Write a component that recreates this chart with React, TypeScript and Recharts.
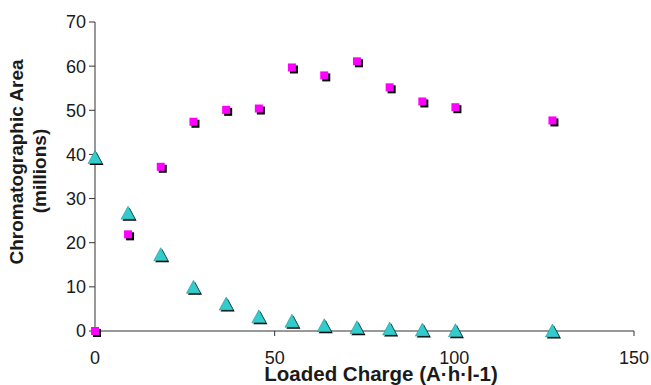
import React from 'react';
import { ScatterChart, Scatter, XAxis, YAxis } from 'recharts';

const charges = [0, 9.2, 18.3, 27.4, 36.5, 45.6, 54.8, 63.8, 72.9, 82, 91.1, 100.3, 127.3];
const squareValues = [0, 21.9, 37.2, 47.4, 50.1, 50.4, 59.7, 57.9, 61.1, 55.2, 52.0, 50.7, 47.7];
const triangleValues = [39.3, 26.7, 17.3, 9.9, 6.1, 3.2, 2.2, 1.2, 0.75, 0.45, 0.2, 0.05, 0];
const xTicks = [0, 50, 100, 150];
const yTicks = [0, 10, 20, 30, 40, 50, 60, 70];

const squareData = charges.map((x, i) => ({ x, y: squareValues[i] }));
const triangleData = charges.map((x, i) => ({ x, y: triangleValues[i] }));

const FONT = 'Arial, "Liberation Sans", sans-serif';

const SquareMark = (props: any) => {
    const { cx, cy } = props;
    if (cx == null || cy == null) return null;
    return (
        <g>
            <rect x={cx - 4 + 2} y={cy - 4 + 2} width={8} height={8} fill="#000" />
            <rect x={cx - 4} y={cy - 4} width={8} height={8} fill="#FF00FF" />
        </g>
    );
};

const TriangleMark = (props: any) => {
    const { cx, cy } = props;
    if (cx == null || cy == null) return null;
    const pts = (dx: number, dy: number) =>
        `${cx + dx},${cy - 7 + dy} ${cx + 7 + dx},${cy + 6 + dy} ${cx - 7 + dx},${cy + 6 + dy}`;
    return (
        <g>
            <polygon points={pts(1.5, 1.5)} fill="#000" />
            <polygon points={pts(0, 0)} fill="#33CCCC" stroke="#1f8080" strokeWidth={0.5} />
        </g>
    );
};

const YTitle = () => (
    <g fontFamily={FONT} fontWeight="bold" fill="#1a1a1a" fontSize={19}>
        <text x={23} y={162} transform="rotate(-90, 23, 162)" textAnchor="middle">
            Chromatographic Area
        </text>
        <text x={46} y={171} transform="rotate(-90, 46, 171)" textAnchor="middle">
            (millions)
        </text>
    </g>
);

const XTitle = () => (
    <text x={381} y={381} textAnchor="middle" fontFamily={FONT} fontWeight="bold" fontSize={20.5} fill="#1a1a1a">
        Loaded Charge (A·h·l-1)
    </text>
);

export default function App() {
    return (
        <div style={{ position: 'absolute', left: 0, top: 0, background: '#fff' }}>
            <ScatterChart width={651} height={385} margin={{ top: 22, right: 17, left: 0, bottom: 0 }}>
                <XAxis
                    type="number"
                    dataKey="x"
                    domain={[0, 150]}
                    ticks={xTicks}
                    height={54}
                    stroke="#333"
                    tickSize={5}
                    tickMargin={15}
                    tick={{ fontSize: 18, fontFamily: FONT, fill: '#1a1a1a' }}
                    label={{ content: () => <XTitle /> }}
                />
                <YAxis
                    type="number"
                    dataKey="y"
                    domain={[0, 70]}
                    ticks={yTicks}
                    width={95}
                    stroke="#333"
                    tickSize={6}
                    tickMargin={3}
                    tick={{ fontSize: 18, fontFamily: FONT, fill: '#1a1a1a' }}
                    label={{ content: () => <YTitle /> }}
                />
                <Scatter data={squareData} shape={SquareMark} isAnimationActive={false} />
                <Scatter data={triangleData} shape={TriangleMark} isAnimationActive={false} />
            </ScatterChart>
        </div>
    );
}
